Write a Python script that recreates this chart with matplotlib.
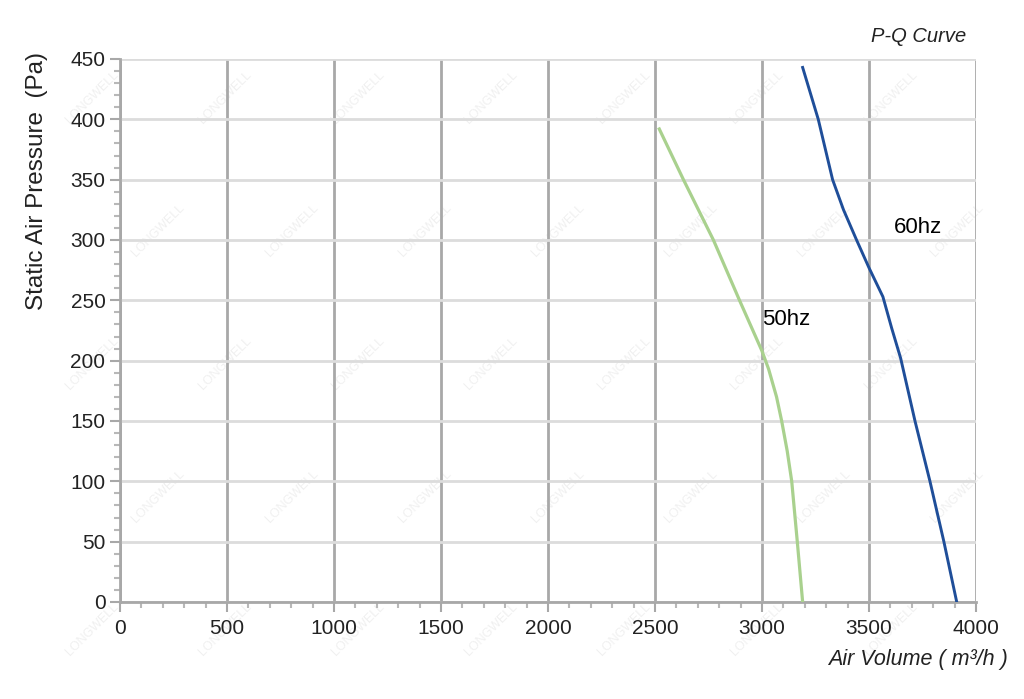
import matplotlib.pyplot as plt
from matplotlib.ticker import MultipleLocator

plt.rcParams['font.family'] = ['Liberation Sans', 'DejaVu Sans']

# 50hz 곡선 (m3/h, Pa)
q_50 = [2520, 2633, 2773, 2895, 3000, 3031, 3068, 3092, 3118, 3139, 3165, 3190]
p_50 = [392, 350, 300, 250, 208, 193, 170, 150, 125, 100, 50, 0]

# 60hz 곡선
q_60 = [3190, 3263, 3330, 3381, 3442, 3500, 3565, 3606, 3648, 3715, 3785, 3850, 3910]
p_60 = [443, 400, 350, 325, 300, 277, 253, 227, 202, 150, 100, 50, 0]

fig = plt.figure(figsize=(10.24, 6.99), dpi=100)

# 워터마크 (아주 연하게)
for row in range(5):
    for col in range(7):
        fx = 0.09 + col * 0.13 + (row % 2) * 0.065
        fy = 0.10 + row * 0.19
        fig.text(fx, fy, 'LONGWELL', rotation=45, color='#f0f0f0',
                 fontsize=9, ha='center', va='center', zorder=0)

ax = fig.add_axes([0.1172, 0.1388, 0.8359, 0.7768])
ax.set_zorder(1)
ax.patch.set_alpha(0)

ax.plot(q_50, p_50, color='#a9d18e', lw=2.3, solid_joinstyle='round', zorder=3)
ax.plot(q_60, p_60, color='#1f4e99', lw=2.1, solid_joinstyle='round', zorder=3)

ax.text(3000, 234, '50hz', fontsize=16, va='center', ha='left')
ax.text(3617, 310, '60hz', fontsize=16, va='center', ha='left')

ax.set_xlim(0, 4000)
ax.set_ylim(0, 450)
ax.xaxis.set_major_locator(MultipleLocator(500))
ax.xaxis.set_minor_locator(MultipleLocator(100))
ax.yaxis.set_major_locator(MultipleLocator(50))
ax.yaxis.set_minor_locator(MultipleLocator(10))

ax.grid(axis='x', which='major', color='#a8a8a8', lw=2)
ax.grid(axis='y', which='major', color='#dcdcdc', lw=2)

for s in ['top', 'right']:
    ax.spines[s].set_visible(False)
for s in ['left', 'bottom']:
    ax.spines[s].set_color('#a8a8a8')
    ax.spines[s].set_linewidth(2)

ax.tick_params(which='major', length=7, width=1.5, color='#a8a8a8',
               labelsize=15, labelcolor='#222222')
ax.tick_params(which='minor', length=4, width=1.5, color='#b8b8b8')
ax.tick_params(axis='x', which='major', pad=5)

ax.set_ylabel('Static Air Pressure  (Pa)', fontsize=17.5, color='#222222')
ax.yaxis.set_label_coords(-0.084, 0.775)

fig.text(0.984, 0.056, 'Air Volume ( m³/h )', fontsize=15.5, style='italic',
         ha='right', va='center', color='#222222')
fig.text(0.944, 0.948, 'P-Q Curve', fontsize=14.5, style='italic',
         ha='right', va='center', color='#222222')

fig.savefig('out.png', dpi=100)
